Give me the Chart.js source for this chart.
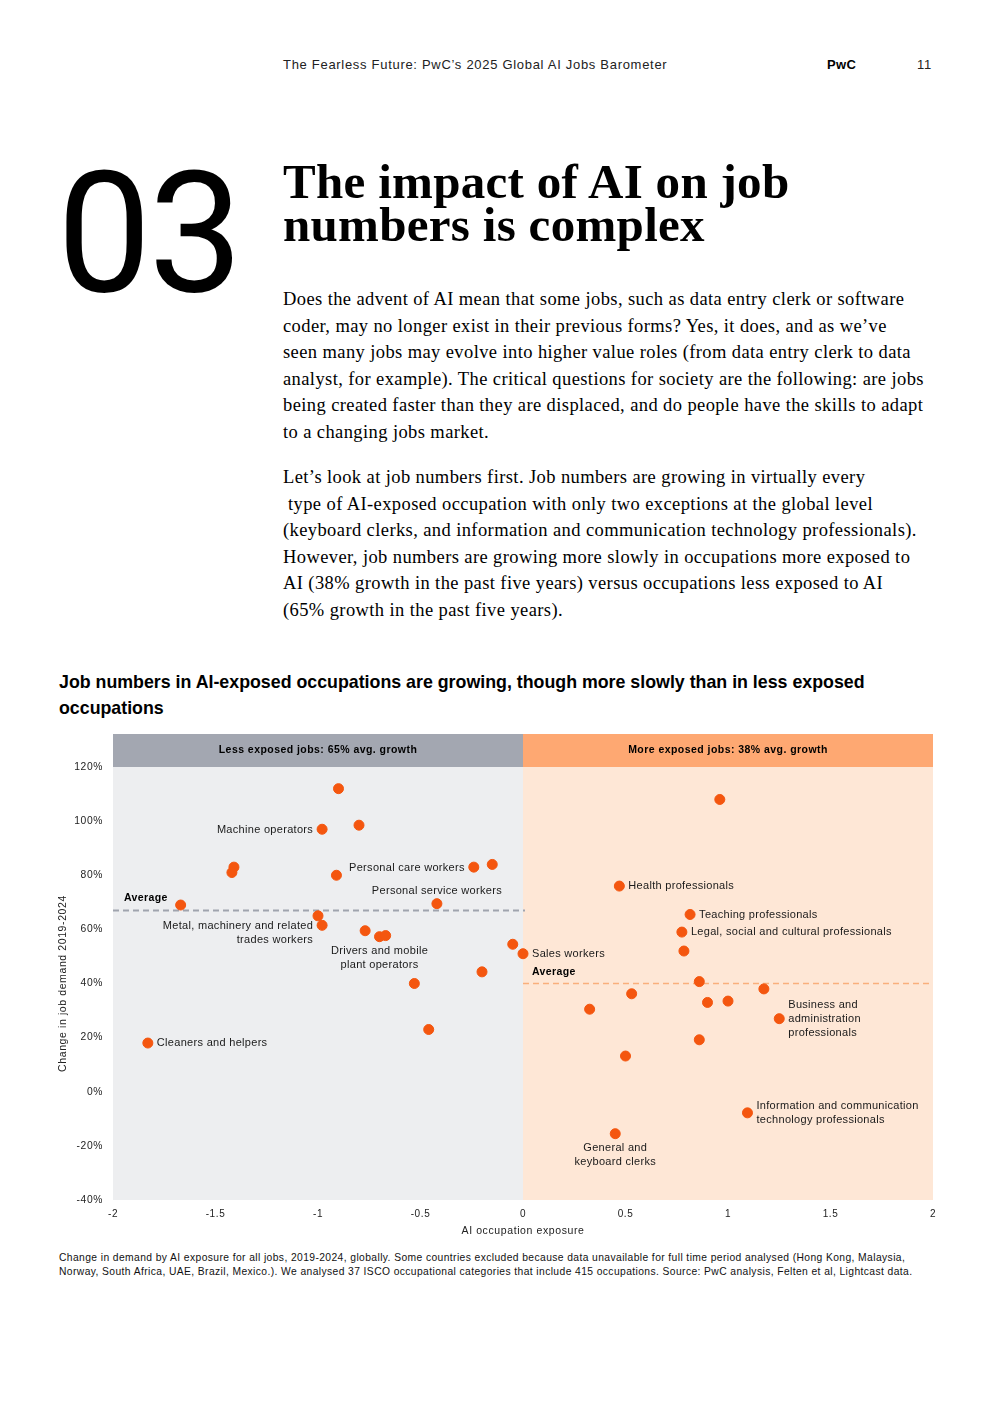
<!DOCTYPE html>
<html lang="en">
<head>
  <meta charset="UTF-8">
  <title>The impact of AI on job numbers is complex</title>
  <style>
    body {
      margin: 0;
      width: 992px;
      height: 1403px;
      position: relative;
      background: #fff;
      color: #000;
      font-family: 'Liberation Sans', Arial, sans-serif;
    }
    .abs { position: absolute; white-space: nowrap; }
    .running { top: 57px; font-size: 13px; letter-spacing: 0.7px; color: #222; }
    .big-num {
      left: 57px; top: 150px;
      font-family: Roboto, 'Liberation Sans', sans-serif;
      font-weight: 400;
      font-size: 168px;
      line-height: 1;
      letter-spacing: -3px;
    }
    .heading {
      left: 283px; top: 160px;
      font-family: 'Liberation Serif', serif;
      font-weight: bold;
      font-size: 49px;
      letter-spacing: 0.3px;
      line-height: 43px;
    }
    .body-text {
      left: 283px;
      font-family: 'Liberation Serif', serif;
      font-size: 18.5px;
      letter-spacing: 0.4px;
      line-height: 26.5px;
    }
    .chart-title {
      left: 59px; top: 669px;
      font-weight: bold;
      font-size: 17.8px;
      line-height: 26px;
    }
    .chart-box {
      position: absolute;
      left: 50px; top: 730px;
      width: 895px; height: 515px;
    }
    .footnote {
      left: 59px; top: 1251px;
      font-size: 10.3px;
      letter-spacing: 0.4px;
      line-height: 14px;
      color: #111;
    }
  </style>
  <script src="https://cdn.jsdelivr.net/npm/chart.js"></script>
</head>
<body>

  <!-- running header -->
  <div class="abs running" style="left:283px;">The Fearless Future: PwC’s 2025 Global AI Jobs Barometer</div>
  <div class="abs running" style="left:827px; font-weight:bold; letter-spacing:0.3px; color:#000;">PwC</div>
  <div class="abs running" style="left:917px;">11</div>

  <div class="abs big-num">03</div>
  <div class="abs heading">The impact of AI on job<br>numbers is complex</div>

  <div class="abs body-text" style="top:286px;">
    Does the advent of AI mean that some jobs, such as data entry clerk or software<br>
    coder, may no longer exist in their previous forms? Yes, it does, and as we’ve<br>
    seen many jobs may evolve into higher value roles (from data entry clerk to data<br>
    analyst, for example). The critical questions for society are the following: are jobs<br>
    being created faster than they are displaced, and do people have the skills to adapt<br>
    to a changing jobs market.
  </div>
  <div class="abs body-text" style="top:464px;">
    Let’s look at job numbers first. Job numbers are growing in virtually every<br>
    &nbsp;type of AI-exposed occupation with only two exceptions at the global level<br>
    (keyboard clerks, and information and communication technology professionals).<br>
    However, job numbers are growing more slowly in occupations more exposed to<br>
    AI (38% growth in the past five years) versus occupations less exposed to AI<br>
    (65% growth in the past five years).
  </div>

  <div class="abs chart-title">Job numbers in AI-exposed occupations are growing, though more slowly than in less exposed<br>occupations</div>

  <div class="chart-box"><canvas id="jobsChart"></canvas></div>

  <div class="abs footnote">Change in demand by AI exposure for all jobs, 2019-2024, globally. Some countries excluded because data unavailable for full time period analysed (Hong Kong, Malaysia,<br>Norway, South Africa, UAE, Brazil, Mexico.). We analysed 37 ISCO occupational categories that include 415 occupations. Source: PwC analysis, Felten et al, Lightcast data.</div>

  <script>
    // AI exposure (x) and change in job demand 2019-2024 in % (y)
    const exposure = [
      -0.90, -0.98, -0.80, -1.41, -1.42, -0.91, -0.24, -0.15, -1.67, -0.42,
      -1.00, -0.98, -0.77, -0.70, -0.67, -0.05, 0.00, -0.20, -0.53, -0.46, -1.83,
      0.96, 0.47, 0.815, 0.775, 0.785, 0.86, 1.175, 0.53, 0.90, 1.00,
      0.325, 1.25, 0.86, 0.50, 1.095, 0.45
    ];
    const demandChange = [
      112, 97, 98.5, 83, 81, 80, 83, 84, 69, 69.5,
      65, 61.5, 59.5, 57.3, 57.7, 54.5, 51, 44.3, 40, 23, 18,
      108, 76, 65.5, 59, 52, 40.7, 38, 36.2, 33, 33.5,
      30.5, 27, 19.2, 13.2, -7.8, -15.5
    ];
    const occupation = [
      '', 'Machine operators', '', '', '', '', 'Personal care workers', '', '', 'Personal service workers',
      '', ['Metal, machinery and related', 'trades workers'], '', ['Drivers and mobile', 'plant operators'], '', '', 'Sales workers', '', '', '', 'Cleaners and helpers',
      '', 'Health professionals', 'Teaching professionals', 'Legal, social and cultural professionals', '', '', '', '', '', '',
      '', ['Business and', 'administration', 'professionals'], '', '', ['Information and communication', 'technology professionals'], ['General and', 'keyboard clerks']
    ];

    const groupNames = ['Less exposed jobs: 65% avg. growth', 'More exposed jobs: 38% avg. growth'];
    const groupAverages = [67, 40];

    const xTicks = [-2, -1.5, -1, -0.5, 0, 0.5, 1, 1.5, 2];
    const yTicks = [-40, -20, 0, 20, 40, 60, 80, 100, 120];

    // where each label sits relative to its dot
    const labelSide = {
      'Machine operators': 'left',
      'Personal care workers': 'left',
      'Personal service workers': 'above',
      'Metal, machinery and related': 'left',
      'Drivers and mobile': 'below',
      'General and': 'below'
    };

    const FONT = "'Liberation Sans', Arial, sans-serif";
    const DOT = '#F4560F';

    const regionsPlugin = {
      id: 'regions',
      beforeDraw(chart) {
        const { ctx, chartArea: a, scales: { x } } = chart;
        const mid = x.getPixelForValue(0);
        ctx.save();
        ctx.fillStyle = '#EDEEF0';
        ctx.fillRect(a.left, a.top, mid - a.left, a.bottom - a.top);
        ctx.fillStyle = '#FEE7D6';
        ctx.fillRect(mid, a.top, a.right - mid, a.bottom - a.top);
        // header bands
        ctx.fillStyle = '#A3A7B1';
        ctx.fillRect(a.left, a.top - 33, mid - a.left, 33);
        ctx.fillStyle = '#FEA872';
        ctx.fillRect(mid, a.top - 33, a.right - mid, 33);
        ctx.fillStyle = '#000';
        ctx.font = 'bold 10.5px ' + FONT;
        ctx.letterSpacing = '0.45px';
        ctx.textAlign = 'center';
        ctx.textBaseline = 'middle';
        ctx.fillText(groupNames[0], (a.left + mid) / 2, a.top - 16.5);
        ctx.fillText(groupNames[1], (mid + a.right) / 2, a.top - 16.5);
        ctx.restore();
        // spaced-out lettering for the axis text as well
        ctx.letterSpacing = '0.6px';
      },
      beforeDatasetsDraw(chart) {
        const { ctx, chartArea: a, scales: { x, y } } = chart;
        const mid = x.getPixelForValue(0);
        ctx.save();
        // less exposed average
        let yy = y.getPixelForValue(groupAverages[0]);
        ctx.strokeStyle = '#A0A4AE';
        ctx.lineWidth = 2;
        ctx.setLineDash([6, 4]);
        ctx.beginPath();
        ctx.moveTo(a.left, yy);
        ctx.lineTo(mid + 2, yy);
        ctx.stroke();
        ctx.font = 'bold 10.5px ' + FONT;
        ctx.letterSpacing = '0.4px';
        ctx.fillStyle = '#000';
        ctx.textAlign = 'left';
        ctx.textBaseline = 'alphabetic';
        ctx.fillText('Average', a.left + 11, yy - 9);
        // more exposed average
        yy = y.getPixelForValue(groupAverages[1]);
        ctx.strokeStyle = '#F9AF7C';
        ctx.lineWidth = 1.5;
        ctx.beginPath();
        ctx.moveTo(mid, yy);
        ctx.lineTo(a.right, yy);
        ctx.stroke();
        ctx.fillText('Average', mid + 9, yy - 9);
        ctx.restore();
      },
      afterDatasetsDraw(chart) {
        const { ctx } = chart;
        const meta = chart.getDatasetMeta(0);
        ctx.save();
        ctx.font = '11px ' + FONT;
        ctx.letterSpacing = '0.3px';
        ctx.fillStyle = '#1a1a1a';
        ctx.textBaseline = 'middle';
        meta.data.forEach((pt, i) => {
          const lab = occupation[i];
          if (!lab) return;
          const lines = Array.isArray(lab) ? lab : [lab];
          const side = labelSide[lines[0]] || 'right';
          const lh = 14;
          if (side === 'right') {
            ctx.textAlign = 'left';
            const start = pt.y - (lines.length - 1) * lh / 2;
            lines.forEach((t, k) => ctx.fillText(t, pt.x + 9, start + k * lh));
          } else if (side === 'left') {
            ctx.textAlign = 'right';
            lines.forEach((t, k) => ctx.fillText(t, pt.x - 9, pt.y + 1 + k * lh));
          } else if (side === 'above') {
            ctx.textAlign = 'center';
            ctx.fillText(lines[0], pt.x, pt.y - 13);
          } else {
            ctx.textAlign = 'center';
            lines.forEach((t, k) => ctx.fillText(t, pt.x, pt.y + 14 + k * lh));
          }
        });
        ctx.restore();
      }
    };

    new Chart(document.getElementById('jobsChart'), {
      type: 'scatter',
      data: {
        datasets: [{
          data: exposure.map((v, i) => ({ x: v, y: demandChange[i] })),
          backgroundColor: DOT,
          borderColor: DOT,
          pointRadius: 5,
          pointHoverRadius: 5
        }]
      },
      options: {
        responsive: true,
        maintainAspectRatio: false,
        animation: false,
        layout: { padding: { top: 37, right: 12, left: 0, bottom: 0 } },
        plugins: {
          legend: { display: false },
          tooltip: { enabled: false }
        },
        scales: {
          x: {
            type: 'linear',
            min: -2, max: 2,
            afterFit(s) { s.height = 45; s.paddingLeft = 0; s.paddingRight = 0; },
            afterBuildTicks(s) { s.ticks = xTicks.map(v => ({ value: v })); },
            grid: { display: false, drawTicks: false },
            border: { display: false },
            ticks: {
              padding: 8,
              color: '#222',
              font: { family: FONT, size: 10 },
              callback: v => String(v)
            },
            title: {
              display: true,
              text: 'AI occupation exposure',
              color: '#222',
              padding: { top: 4, bottom: 8 },
              font: { family: FONT, size: 10.5 }
            }
          },
          y: {
            min: -40, max: 120,
            afterFit(s) { s.width = 63; s.paddingTop = 0; s.paddingBottom = 0; },
            afterBuildTicks(s) { s.ticks = yTicks.map(v => ({ value: v })); },
            grid: { display: false, drawTicks: false },
            border: { display: false },
            ticks: {
              padding: 10,
              color: '#222',
              font: { family: FONT, size: 10.3 },
              callback: v => v + '%'
            },
            title: {
              display: true,
              text: 'Change in job demand 2019-2024',
              color: '#222',
              padding: { top: 7, bottom: 4 },
              font: { family: FONT, size: 10.5 }
            }
          }
        }
      },
      plugins: [regionsPlugin]
    });
  </script>
</body>
</html>
